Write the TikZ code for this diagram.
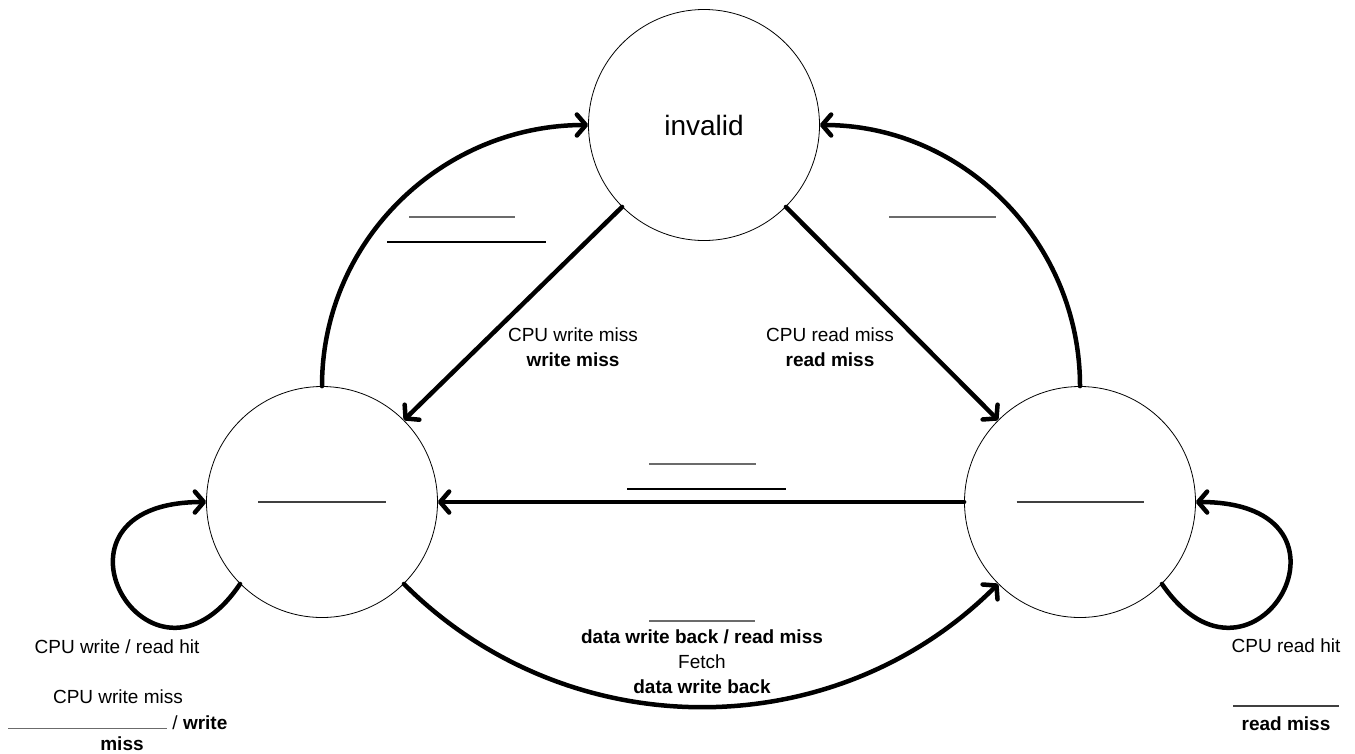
\documentclass[tikz,border=0pt]{standalone}
\usepackage{fontspec}
\setmainfont{Liberation Sans}
\usetikzlibrary{arrows.meta}
\definecolor{rulelight}{rgb}{0.42,0.42,0.42}
\definecolor{ruledark}{rgb}{0.25,0.25,0.25}
\begin{document}
\begin{tikzpicture}[x=1pt,y=1pt,
  state/.style={circle,draw=black,line width=0.8pt,minimum size=231pt,inner sep=0pt},
  conn/.style={line width=4.5pt,line cap=round,-{Straight Barb[length=9pt,width=21pt,round]}},
  lbl/.style={font=\fontsize{19}{23}\selectfont,inner sep=0pt,anchor=base},
  blank/.style={inner sep=0pt,anchor=west}
]
\useasboundingbox (0,0) rectangle (1355,-753);
% states
\node[state,font=\fontsize{28}{32}\selectfont] (inv) at (704,-125) {invalid};
\node[state,text=ruledark] (L) at (322,-502) {\rule{128pt}{1.2pt}};
\node[state,text=ruledark] (R) at (1080,-502) {\rule{127pt}{1.2pt}};
% connectors
\draw[conn] (L.north) to[out=90,in=180] (inv.west);
\draw[conn] (R.north) to[out=90,in=0] (inv.east);
\draw[conn] (inv.-135) -- (L.45);
\draw[conn] (inv.-45) -- (R.135);
\draw[conn] (R.west) -- (L.east);
\draw[conn] (L.-45) to[out=-45,in=-135] (R.-135);
\draw[conn] (L.-135) .. controls (150,-718) and (26,-502) .. (L.west);
\draw[conn] (R.-45) .. controls (1254,-718) and (1378,-502) .. (R.east);
% blank label lines
\node[blank,text=rulelight] (tl1) at (409,-217) {\rule{106pt}{1.2pt}};
\node[blank,text=black] (tl2) at (387,-242) {\rule{159pt}{1.2pt}};
\node[blank,text=rulelight] (tr1) at (889,-217) {\rule{107pt}{1.2pt}};
\node[blank,text=rulelight] (m1) at (649,-464) {\rule{107pt}{1.2pt}};
\node[blank,text=black] (m2) at (627,-489) {\rule{159pt}{1.2pt}};
\node[blank,text=rulelight] (b1) at (649,-621) {\rule{106pt}{1.2pt}};
\node[blank,text=ruledark] (rr1) at (1233,-706) {\rule{106pt}{1.2pt}};
% labels
\node[lbl] (wm1) at (573,-341) {CPU write miss};
\node[lbl] (wm2) at (573,-366) {\textbf{write miss}};
\node[lbl] (rm1) at (830,-341) {CPU read miss};
\node[lbl] (rm2) at (830,-366) {\textbf{read miss}};
\node[lbl] (bt1) at (702,-643) {\textbf{data write back / read miss}};
\node[lbl] (bt2) at (702,-668) {Fetch};
\node[lbl] (bt3) at (702,-693) {\textbf{data write back}};
\node[lbl] (ll1) at (117,-653) {CPU write / read hit};
\node[lbl] (ll2) at (118,-703) {CPU write miss};
\node[lbl,anchor=base west] (ll3) at (8,-729) {{\color{rulelight}\rule{159pt}{1.2pt}} / \textbf{write}};
\node[lbl] (ll4) at (122,-750) {\textbf{miss}};
\node[lbl] (rl1) at (1286,-652) {CPU read hit};
\node[lbl] (rl2) at (1286,-730) {\textbf{read miss}};
\end{tikzpicture}
\end{document}
